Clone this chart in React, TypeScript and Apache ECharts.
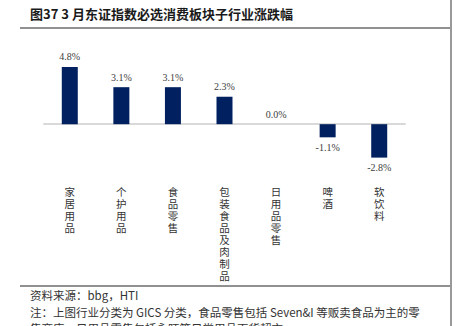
import React, { useEffect, useRef } from "react";
import * as echarts from "echarts";

const categories = ["家居用品", "个护用品", "食品零售", "包装食品及肉制品", "日用品零售", "啤酒", "软饮料"];
const values = [4.8, 3.1, 3.1, 2.3, 0.0, -1.1, -2.8];
const titleText = "图37 3 月东证指数必选消费板块子行业涨跌幅";
const footerLines = [
  "资料来源：bbg，HTI",
  "注：上图行业分类为 GICS 分类，食品零售包括 Seven&I 等贩卖食品为主的零",
  "售商店，日用品零售包括永旺等日常用品百货超市",
];

export default function App() {
  const ref = useRef<HTMLDivElement>(null);
  useEffect(() => {
    if (!ref.current) return;
    const chart = echarts.init(ref.current, undefined, { renderer: "svg" });
    const cjk = "'Noto Sans CJK SC', sans-serif";
    chart.setOption({
      animation: false,
      backgroundColor: "#ffffff",
      grid: { left: 44, right: 54, top: 64.5, bottom: 166, containLabel: false },
      xAxis: [
        {
          type: "category",
          data: categories,
          axisLine: { onZero: true, lineStyle: { color: "#d9d9d9", width: 2 } },
          axisTick: { show: false },
          axisLabel: { show: false },
        },
        {
          type: "category",
          data: categories,
          position: "bottom",
          axisLine: { show: false, onZero: false },
          axisTick: { show: false },
          axisLabel: {
            show: true,
            margin: 25,
            interval: 0,
            fontFamily: cjk,
            fontSize: 10.5,
            lineHeight: 12,
            color: "#333333",
            verticalAlign: "top",
            formatter: (v: string) => v.split("").join("\n"),
          },
        },
      ],
      yAxis: {
        type: "value",
        min: -3,
        max: 5,
        show: false,
        splitLine: { show: false },
      },
      series: [
        {
          type: "bar",
          xAxisIndex: 0,
          barWidth: 16,
          itemStyle: { color: "#002060" },
          data: values.map((v) => ({
            value: v,
            label: { position: v < 0 ? "bottom" : "top" },
          })),
          label: {
            show: true,
            distance: 5,
            fontFamily: "'Liberation Serif', serif",
            fontSize: 10,
            color: "#404040",
            formatter: (p: any) => p.value.toFixed(1) + "%",
          },
        },
      ],
      graphic: [
        {
          type: "text",
          left: 30,
          top: 7,
          style: {
            text: titleText,
            font: "bold 13px 'Noto Sans CJK SC', sans-serif",
            fill: "#1a1a1a",
          },
        },
        {
          type: "line",
          shape: { x1: 20, y1: 28, x2: 451, y2: 28 },
          style: { stroke: "#222222", lineWidth: 1 },
        },
        {
          type: "line",
          shape: { x1: 20, y1: 286, x2: 451, y2: 286 },
          style: { stroke: "#222222", lineWidth: 1 },
        },
        {
          type: "line",
          shape: { x1: 451, y1: 0, x2: 451, y2: 326 },
          style: { stroke: "#999999", lineWidth: 2 },
        },
        ...footerLines.map((t, i) => ({
          type: "text",
          x: 30,
          y: 295 + i * 16.5,
          style: {
            text: t,
            font: "11.5px 'Noto Sans CJK SC', sans-serif",
            fill: "#333333",
            verticalAlign: "middle",
          },
        })),
      ],
    });
    return () => chart.dispose();
  }, []);
  return (
    <div
      ref={ref}
      style={{ position: "fixed", left: 0, top: 0, width: 459, height: 326 }}
    />
  );
}
